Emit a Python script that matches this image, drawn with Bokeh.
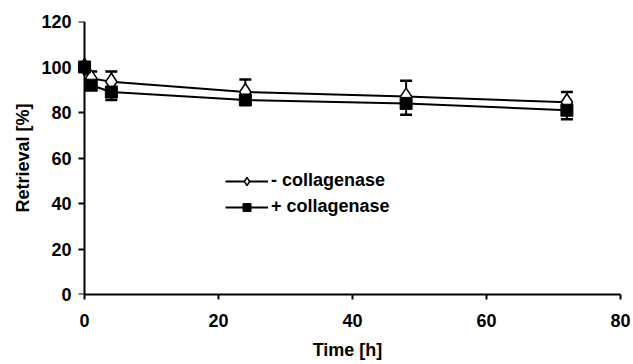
from bokeh.plotting import figure
from bokeh.models import (ColumnDataSource, Whisker, TeeHead, Legend, LegendItem,
                          FixedTicker, Range1d, LinearAxis)
from bokeh.embed import file_html
from bokeh.resources import INLINE

# Data
times = [0, 1, 4, 24, 48, 72]
minus_coll = [100, 95, 93.5, 89, 87, 84.5]
minus_sd = [1, 3, 4.5, 5.5, 7, 4.5]
plus_coll = [100, 92, 89, 85.5, 84, 81]
plus_sd = [1, 2, 3.5, 2, 5, 4]
x_ticks = [0, 20, 40, 60, 80]
y_ticks = [0, 20, 40, 60, 80, 100, 120]
labels = ["- collagenase", "+ collagenase"]

FONT = "Liberation Sans"
FS = "18px"

src_m = ColumnDataSource(dict(
    x=times, y=minus_coll,
    up=[v + e for v, e in zip(minus_coll, minus_sd)]))
src_p = ColumnDataSource(dict(
    x=times, y=plus_coll,
    lo=[v - e for v, e in zip(plus_coll, plus_sd)]))

p = figure(width=633, height=364, output_backend="svg", toolbar_location=None,
           x_range=Range1d(-1.5, 80), y_range=Range1d(0, 120),
           min_border_left=74, min_border_right=13, min_border_top=21,
           min_border_bottom=70)
p.outline_line_color = None
p.xgrid.visible = False
p.ygrid.visible = False
p.background_fill_color = "white"
p.border_fill_color = "white"

# lines
l_m = p.line("x", "y", source=src_m, line_color="black", line_width=2)
l_p = p.line("x", "y", source=src_p, line_color="black", line_width=2)

# error bars
wm = Whisker(source=src_m, base="x", lower="y", upper="up", dimension="height",
             line_color="black", line_width=2,
             upper_head=TeeHead(size=12, line_color="black", line_width=2.5),
             lower_head=None)
wp = Whisker(source=src_p, base="x", lower="lo", upper="y", dimension="height",
             line_color="black", line_width=2,
             lower_head=TeeHead(size=12, line_color="black", line_width=2.5),
             upper_head=None)
p.add_layout(wm)
p.add_layout(wp)

# markers
s_m = p.scatter("x", "y", source=src_m, marker="diamond", size=17,
                fill_color="white", line_color="black", line_width=1.5)
s_p = p.scatter("x", "y", source=src_p, marker="square", size=12,
                fill_color="black", line_color="black")

legend = Legend(items=[
    LegendItem(label=labels[0], renderers=[l_m, s_m]),
    LegendItem(label=labels[1], renderers=[l_p, s_p]),
], location=(151, 77))
legend.background_fill_alpha = 0
legend.border_line_alpha = 0
legend.padding = 0
legend.margin = 0
legend.spacing = 5
legend.glyph_width = 43
legend.glyph_height = 20
legend.label_height = 20
legend.label_standoff = 3
legend.label_text_font = FONT
legend.label_text_font_style = "bold"
legend.label_text_font_size = FS
legend.label_text_color = "black"
p.add_layout(legend, "center")

def style(ax):
    ax.axis_line_width = 2
    ax.axis_line_color = "black"
    ax.major_tick_line_width = 2
    ax.major_tick_line_color = "black"
    ax.major_tick_in = 0
    ax.minor_tick_line_color = None
    ax.major_label_text_font = FONT
    ax.major_label_text_font_style = "bold"
    ax.major_label_text_font_size = FS
    ax.major_label_text_color = "black"
    ax.axis_label_text_font = FONT
    ax.axis_label_text_font_style = "bold"
    ax.axis_label_text_font_size = FS
    ax.axis_label_text_color = "black"

style(p.xaxis[0])
style(p.yaxis[0])

# x axis
p.xaxis.bounds = (0, 80)
p.xaxis.ticker = FixedTicker(ticks=x_ticks)
p.xaxis.major_tick_out = 5
p.xaxis.major_label_standoff = 14
p.xaxis.axis_label = "Time [h]"
p.xaxis.axis_label_standoff = 10

# y axis at frame edge: only tick labels and title
p.yaxis.ticker = FixedTicker(ticks=y_ticks)
p.yaxis.axis_line_color = None
p.yaxis.major_tick_line_color = None
p.yaxis.major_tick_out = 0
p.yaxis.major_label_standoff = 3
p.yaxis.axis_label = "Retrieval [%]"
p.yaxis.axis_label_standoff = 5

# y axis line and ticks placed at x = 0
yline = LinearAxis(ticker=FixedTicker(ticks=y_ticks), fixed_location=0, bounds=(0, 120))
style(yline)
yline.major_tick_out = 6
yline.major_label_text_font_size = "0px"
yline.major_label_standoff = 0
yline.major_label_text_alpha = 0
p.add_layout(yline, "left")

open("out.html", "w").write(file_html(p, INLINE))
